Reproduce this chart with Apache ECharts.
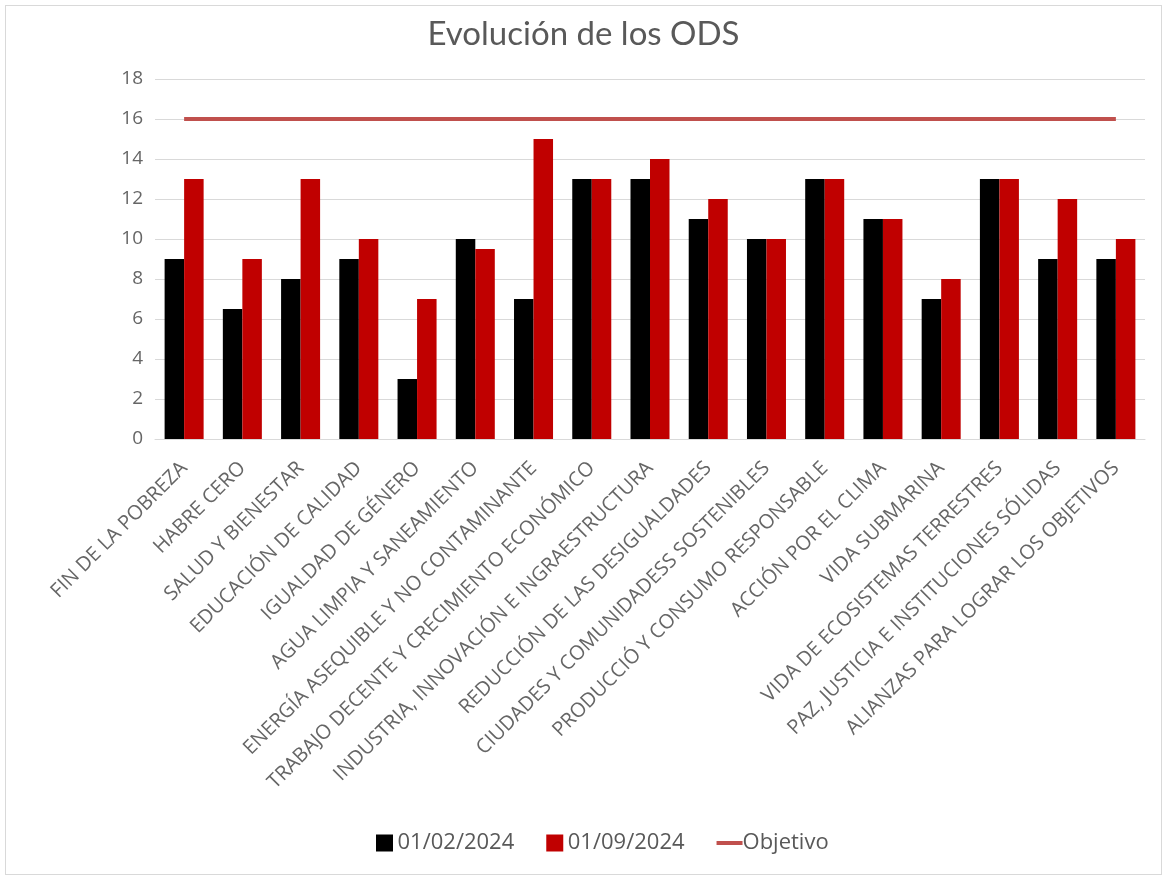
<!DOCTYPE html>
<html>
<head>
<meta charset="utf-8">
<script src="https://cdn.jsdelivr.net/npm/echarts@6/dist/echarts.min.js"></script>
<style>
html,body{margin:0;padding:0;background:#fff;}
#frame{position:absolute;left:5px;top:5px;width:1155px;height:868px;border:1px solid #d9d9d9;}
#chart{position:absolute;left:0;top:0;width:1167px;height:880px;}
</style>
</head>
<body>
<div id="frame"></div>
<div id="chart"></div>
<script>
var categories = [
  "FIN DE LA POBREZA",
  "HABRE CERO",
  "SALUD Y BIENESTAR",
  "EDUCACIÓN DE CALIDAD",
  "IGUALDAD DE GÉNERO",
  "AGUA LIMPIA Y SANEAMIENTO",
  "ENERGÍA ASEQUIBLE Y NO CONTAMINANTE",
  "TRABAJO DECENTE Y CRECIMIENTO ECONÓMICO",
  "INDUSTRIA, INNOVACIÓN E INGRAESTRUCTURA",
  "REDUCCIÓN DE LAS DESIGUALDADES",
  "CIUDADES Y COMUNIDADESS SOSTENIBLES",
  "PRODUCCIÓ Y CONSUMO RESPONSABLE",
  "ACCIÓN POR EL CLIMA",
  "VIDA SUBMARINA",
  "VIDA DE ECOSISTEMAS TERRESTRES",
  "PAZ, JUSTICIA E INSTITUCIONES SÓLIDAS",
  "ALIANZAS PARA LOGRAR LOS OBJETIVOS"
];
var feb2024 = [9, 6.5, 8, 9, 3, 10, 7, 13, 13, 11, 10, 13, 11, 7, 13, 9, 9];
var sep2024 = [13, 9, 13, 10, 7, 9.5, 15, 13, 14, 12, 10, 13, 11, 8, 13, 12, 10];
var objetivo = [16, 16, 16, 16, 16, 16, 16, 16, 16, 16, 16, 16, 16, 16, 16, 16, 16];
var seriesNames = ["01/02/2024", "01/09/2024", "Objetivo"];
var titleText = "Evolución de los ODS";

var chart = echarts.init(document.getElementById('chart'));
var sq = 'path://M0,0 L17,0 L17,17 L0,17 Z';
var ln = 'path://M0,0 L26,0 L26,4 L0,4 Z';
chart.setOption({
  backgroundColor: 'transparent',
  animation: false,
  title: {
    text: titleText,
    left: 'center',
    top: 13,
    textStyle: {fontFamily: 'Lato', fontSize: 33, fontWeight: 'normal', color: '#595959'}
  },
  legend: {
    bottom: 21,
    left: 371,
    itemGap: 32,
    itemWidth: 26,
    itemHeight: 17,
    textStyle: {fontFamily: 'Open Sans', fontSize: 22, color: '#595959', padding: [0, 0, 0, -5]},
    data: [
      {name: seriesNames[0], icon: sq},
      {name: seriesNames[1], icon: sq},
      {name: seriesNames[2], icon: ln}
    ]
  },
  grid: {left: 155, right: 22, top: 79, bottom: 441, containLabel: false},
  xAxis: {
    type: 'category',
    data: categories,
    axisLine: {lineStyle: {color: '#d9d9d9', width: 1}},
    axisTick: {show: false},
    axisLabel: {
      interval: 0,
      rotate: 45,
      margin: 26,
      fontFamily: 'Open Sans',
      fontSize: 20,
      color: '#666666'
    }
  },
  yAxis: {
    type: 'value',
    min: 0,
    max: 18,
    interval: 2,
    axisLine: {show: false},
    axisTick: {show: false},
    axisLabel: {fontFamily: 'Open Sans', fontSize: 19, color: '#666666', margin: 12},
    splitLine: {lineStyle: {color: '#d9d9d9', width: 1}}
  },
  series: [
    {
      name: seriesNames[0],
      type: 'bar',
      data: feb2024,
      barGap: '0%',
      barCategoryGap: '33%',
      itemStyle: {color: '#000000'}
    },
    {
      name: seriesNames[1],
      type: 'bar',
      data: sep2024,
      itemStyle: {color: '#c00000'}
    },
    {
      name: seriesNames[2],
      type: 'line',
      data: objetivo,
      symbol: 'none',
      lineStyle: {color: '#c0504d', width: 4},
      itemStyle: {color: '#c0504d'}
    }
  ]
});
</script>
</body>
</html>
